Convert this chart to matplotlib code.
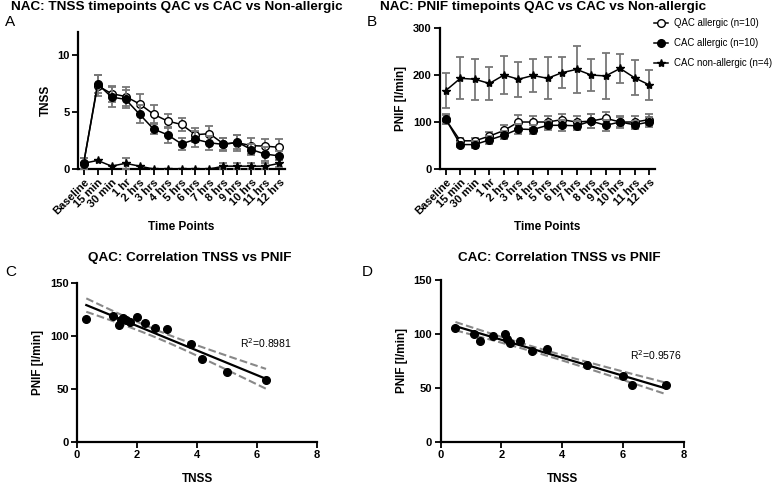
import matplotlib
matplotlib.use("Agg")
import matplotlib.pyplot as plt
import numpy as np

plt.rcParams['font.family'] = ['Liberation Sans', 'DejaVu Sans']

# categories
temps = ["Baseline", "15 min", "30 min", "1 hr", "2 hrs", "3 hrs", "4 hrs", "5 hrs",
         "6 hrs", "7 hrs", "8 hrs", "9 hrs", "10 hrs", "11 hrs", "12 hrs"]

# panneau A : TNSS
tnss_qac = [0.5, 7.3, 6.6, 6.35, 5.7, 4.8, 4.2, 3.9, 3.0, 3.1, 2.2, 2.3, 2.05, 2.0, 1.9]
tnss_qac_err = [0.5, 0.9, 0.7, 0.8, 0.9, 0.8, 0.6, 0.6, 0.6, 0.7, 0.5, 0.7, 0.7, 0.6, 0.7]
tnss_cac = [0.45, 7.45, 6.3, 6.1, 4.8, 3.5, 3.0, 2.2, 2.6, 2.3, 2.15, 2.35, 1.7, 1.3, 1.15]
tnss_cac_err = [0.5, 0.8, 0.9, 0.8, 0.8, 0.4, 0.7, 0.5, 0.7, 0.6, 0.6, 0.6, 0.5, 0.6, 0.4]
tnss_non = [0.5, 0.75, 0.25, 0.5, 0.25, 0, 0, 0, 0, 0, 0.25, 0.25, 0.25, 0.25, 0.5]
tnss_non_err = [0.5, 0, 0, 0.5, 0, 0, 0, 0, 0, 0, 0.25, 0.25, 0.25, 0.25, 0.3]

# panneau B : PNIF
pnif_qac = [105, 60, 60, 70, 82, 100, 100, 100, 105, 100, 102, 108, 100, 100, 105]
pnif_qac_err = [10, 6, 6, 8, 12, 14, 13, 13, 12, 12, 14, 14, 12, 12, 12]
pnif_cac = [106, 52, 52, 62, 72, 85, 84, 93, 93, 92, 102, 93, 100, 94, 100]
pnif_cac_err = [10, 6, 7, 8, 8, 10, 9, 10, 12, 10, 14, 12, 10, 9, 10]
pnif_non = [167, 193, 191, 182, 200, 191, 199, 193, 205, 212, 200, 198, 214, 194, 179]
pnif_non_err = [38, 45, 44, 35, 40, 37, 35, 45, 33, 50, 35, 49, 30, 37, 32]

# panneaux C et D : correlations
c_tnss = [0.31, 1.2, 1.39, 1.45, 1.53, 1.63, 1.76, 2.0, 2.28, 2.6, 3.0, 3.8, 4.15, 5.0, 6.3]
c_pnif = [116.4, 118.9, 110.4, 115.4, 116.7, 114.8, 113.5, 117.9, 112.3, 107.9, 106.3, 92.1, 78.3, 65.7, 58.8]
d_tnss = [0.49, 1.1, 1.29, 1.71, 2.12, 2.19, 2.3, 2.6, 3.0, 3.5, 4.82, 6.0, 6.3, 7.4]
d_pnif = [105.9, 99.8, 93.9, 97.9, 100.4, 95.5, 91.5, 93.9, 83.8, 85.7, 71.5, 60.7, 52.4, 52.4]

W, H = 777, 484
fig = plt.figure(figsize=(7.77, 4.84), dpi=100)
axA = fig.add_axes([0.1004, 0.6508, 0.2664, 0.2831])
axB = fig.add_axes([0.5663, 0.6508, 0.2767, 0.2913])
axC = fig.add_axes([0.0991, 0.0868, 0.3089, 0.3285])
axD = fig.add_axes([0.567, 0.0868, 0.313, 0.3347])

ecol = "#777777"
tfont = dict(fontsize=9.7, fontweight="bold")
lfont = dict(fontsize=8.5, fontweight="bold")


def style(ax):
    for s in ["top", "right"]:
        ax.spines[s].set_visible(False)
    for s in ["left", "bottom"]:
        ax.spines[s].set_linewidth(1.6)
    ax.tick_params(width=1.3, length=4, labelsize=8, pad=2)
    for lab in ax.get_xticklabels() + ax.get_yticklabels():
        lab.set_fontweight("bold")


def courbes(ax, y1, e1, y2, e2, y3, e3):
    x = np.arange(len(temps))
    l1 = ax.errorbar(x, y1, yerr=e1, fmt="-o", color="black", mfc="white", mec="black",
                     ms=5.5, lw=1.1, ecolor=ecol, elinewidth=1.3, capsize=3, capthick=1.3,
                     label="QAC allergic (n=10)", zorder=3)
    l2 = ax.errorbar(x, y2, yerr=e2, fmt="-o", color="black", ms=5.5, lw=1.1,
                     ecolor=ecol, elinewidth=1.3, capsize=3, capthick=1.3,
                     label="CAC allergic (n=10)", zorder=4)
    l3 = ax.errorbar(x, y3, yerr=e3, fmt="-*", color="black", ms=6, lw=1.1,
                     ecolor=ecol, elinewidth=1.3, capsize=3, capthick=1.3,
                     label="CAC non-allergic (n=4)", zorder=3)
    ax.set_xticks(x)
    ax.set_xticklabels(temps, rotation=45, ha="right", rotation_mode="anchor")
    ax.set_xlim(-0.4, len(temps) - 0.6)
    ax.set_xlabel("Time Points", labelpad=3, **lfont)
    return l1, l2, l3


courbes(axA, tnss_qac, tnss_qac_err, tnss_cac, tnss_cac_err, tnss_non, tnss_non_err)
axA.set_ylim(0, 12)
axA.set_yticks([0, 5, 10])
axA.set_ylabel("TNSS", **lfont)
style(axA)

handles = courbes(axB, pnif_qac, pnif_qac_err, pnif_cac, pnif_cac_err, pnif_non, pnif_non_err)
axB.set_ylim(0, 300)
axB.set_yticks([0, 100, 200, 300])
axB.set_ylabel("PNIF [l/min]", **lfont)
style(axB)
lignes = [h[0] for h in handles]
fig.legend(lignes, [h.get_label() for h in handles], loc="upper left",
           bbox_to_anchor=(654 / W, 1 - 18 / H), frameon=False,
           fontsize=6.9, handlelength=1.5, handletextpad=0.6, labelspacing=1.05,
           borderaxespad=0, borderpad=0)

tval = {12: 2.179, 13: 2.160}


def correl(ax, x, y, r2, pos):
    x = np.array(x)
    y = np.array(y)
    ax.plot(x, y, "o", color="black", ms=5.5, zorder=3)
    a, b = np.polyfit(x, y, 1)
    n = len(x)
    xx = np.linspace(x.min(), x.max(), 100)
    yy = a * xx + b
    res = y - (a * x + b)
    s = np.sqrt(np.sum(res ** 2) / (n - 2))
    ci = tval[n - 2] * s * np.sqrt(1 / n + (xx - x.mean()) ** 2 / np.sum((x - x.mean()) ** 2))
    ax.plot(xx, yy, "-", color="black", lw=1.6, zorder=2)
    ax.plot(xx, yy + ci, "--", color="#888888", lw=1.5)
    ax.plot(xx, yy - ci, "--", color="#888888", lw=1.5)
    ax.text(pos[0], pos[1], "R$^2$=" + r2, fontsize=7.5)
    ax.set_xlim(0, 8)
    ax.set_ylim(0, 150)
    ax.set_xticks([0, 2, 4, 6, 8])
    ax.set_yticks([0, 50, 100, 150])
    ax.set_xlabel("TNSS", labelpad=9, **lfont)
    ax.set_ylabel("PNIF [l/min]", **lfont)
    style(ax)


correl(axC, c_tnss, c_pnif, "0.8981", (5.44, 89))
correl(axD, d_tnss, d_pnif, "0.9576", (6.22, 76))

# titres
for txt, px, py in [("NAC: TNSS timepoints QAC vs CAC vs Non-allergic", 177, 7),
                    ("NAC: PNIF timepoints QAC vs CAC vs Non-allergic", 543, 7),
                    ("QAC: Correlation TNSS vs PNIF", 190, 258),
                    ("CAC: Correlation TNSS vs PNIF", 559, 258)]:
    fig.text(px / W, 1 - py / H, txt, ha="center", va="center", **tfont)

for lettre, px, py in [("A", 5, 22), ("B", 367, 22), ("C", 5, 272), ("D", 362, 272)]:
    fig.text(px / W, 1 - py / H, lettre, fontsize=11, va="center")

fig.savefig("out.png", dpi=100)
